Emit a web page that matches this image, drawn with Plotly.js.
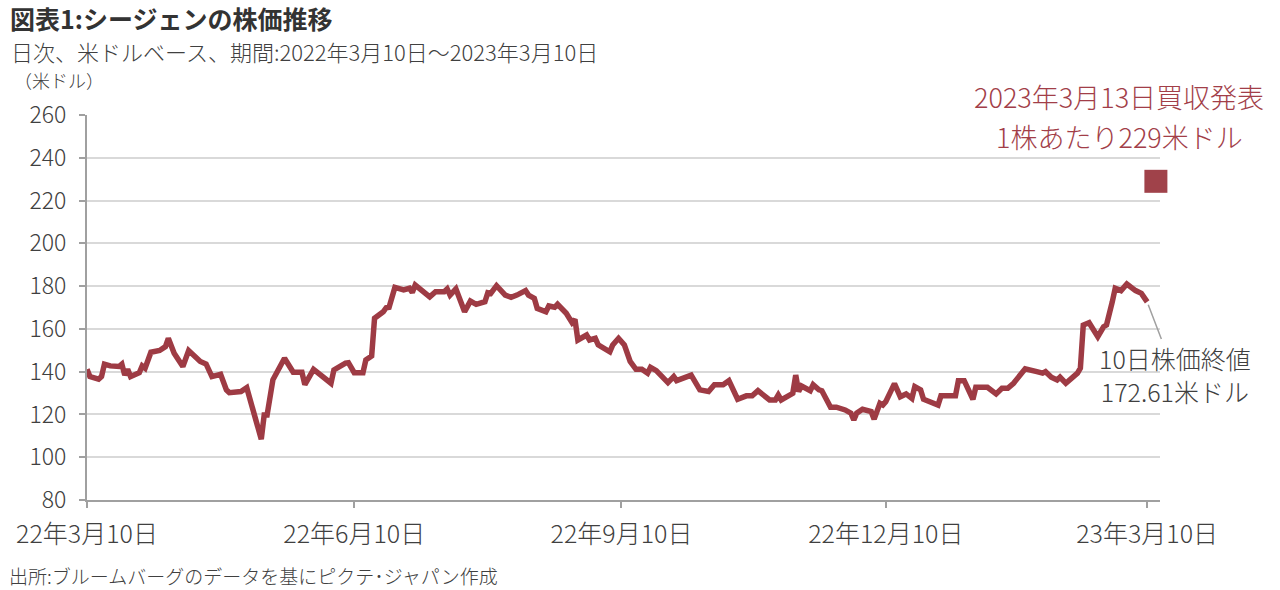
<!DOCTYPE html>
<html>
<head>
<meta charset="utf-8">
<script src="https://cdn.plot.ly/plotly-3.0.1.min.js"></script>
<style>html,body{margin:0;padding:0;background:#fff;}#chart{width:1280px;height:590px;}</style>
</head>
<body>
<div id="chart"></div>
<script>
const dates = [
"2022-03-10","2022-03-11","2022-03-14","2022-03-15","2022-03-16","2022-03-18","2022-03-21","2022-03-22","2022-03-23","2022-03-24",
"2022-03-25","2022-03-28","2022-03-29","2022-03-30","2022-04-01","2022-04-04","2022-04-06","2022-04-07","2022-04-09","2022-04-12",
"2022-04-14","2022-04-18","2022-04-20","2022-04-22","2022-04-25","2022-04-27","2022-04-28","2022-05-02","2022-05-04","2022-05-07",
"2022-05-09","2022-05-10","2022-05-11","2022-05-13","2022-05-17","2022-05-20","2022-05-23","2022-05-24","2022-05-27","2022-06-02",
"2022-06-03","2022-06-07","2022-06-08","2022-06-10","2022-06-13","2022-06-14","2022-06-16","2022-06-17","2022-06-20","2022-06-21",
"2022-06-22","2022-06-24","2022-06-27","2022-06-29","2022-06-30","2022-07-01","2022-07-06","2022-07-08","2022-07-11","2022-07-12",
"2022-07-13","2022-07-15","2022-07-18","2022-07-20","2022-07-22","2022-07-25","2022-07-26","2022-07-27","2022-07-29","2022-08-01",
"2022-08-03","2022-08-05","2022-08-08","2022-08-09","2022-08-11","2022-08-12","2022-08-15","2022-08-16","2022-08-18","2022-08-19",
"2022-08-22","2022-08-24","2022-08-25","2022-08-26","2022-08-29","2022-08-30","2022-09-01","2022-09-02","2022-09-06","2022-09-07",
"2022-09-09","2022-09-11","2022-09-13","2022-09-15","2022-09-17","2022-09-19","2022-09-20","2022-09-22","2022-09-26","2022-09-28",
"2022-09-29","2022-10-04","2022-10-07","2022-10-10","2022-10-12","2022-10-15","2022-10-17","2022-10-20","2022-10-23","2022-10-25",
"2022-10-27","2022-10-31","2022-11-02","2022-11-03","2022-11-04","2022-11-08","2022-11-09","2022-11-10","2022-11-11","2022-11-14",
"2022-11-15","2022-11-17","2022-11-18","2022-11-21","2022-11-23","2022-11-26","2022-11-28","2022-11-29","2022-11-30","2022-12-02",
"2022-12-05","2022-12-06","2022-12-08","2022-12-09","2022-12-10","2022-12-13","2022-12-15","2022-12-17","2022-12-19","2022-12-20",
"2022-12-22","2022-12-23","2022-12-28","2022-12-29","2023-01-03","2023-01-04","2023-01-06","2023-01-09","2023-01-10","2023-01-14",
"2023-01-17","2023-01-19","2023-01-21","2023-01-23","2023-01-27","2023-01-31","2023-02-02","2023-02-03","2023-02-05","2023-02-07",
"2023-02-08","2023-02-10","2023-02-14","2023-02-15","2023-02-16","2023-02-18","2023-02-21","2023-02-23","2023-02-24","2023-02-26",
"2023-02-27","2023-03-01","2023-03-03","2023-03-06","2023-03-08","2023-03-10"
];
const prices = [
141.1,137.7,136.5,137.7,143.5,142.7,142.4,143.5,138.4,141.1,
137.7,139.5,142.7,141.6,149.1,149.9,151.7,155.6,148.6,142.4,
149.9,144.8,143.6,137.7,138.8,131.5,130.2,130.7,132.5,119.0,
108.4,119.7,119.7,136.2,146.3,139.7,139.7,133.9,141.1,134.6,
140.8,144.0,144.2,139.5,139.5,145.5,147.3,165.0,168.0,169.9,
170.1,179.4,178.2,179.0,177.0,180.5,175.0,177.4,177.4,178.7,
175.8,178.7,168.0,173.0,171.5,172.7,176.9,176.6,180.2,175.8,
174.8,175.8,177.9,175.8,174.3,169.6,168.0,170.7,170.1,171.5,
167.3,162.9,164.5,154.8,157.1,154.8,155.6,152.5,149.3,152.5,
155.6,152.5,144.8,141.1,141.1,139.3,142.0,140.5,134.9,137.7,
135.8,138.4,131.5,130.7,133.9,133.9,135.8,127.1,128.7,128.7,
131.1,126.8,126.8,129.1,126.8,129.9,138.4,130.7,133.3,131.1,
133.9,131.5,131.1,123.4,123.4,122.1,120.6,117.4,120.6,122.4,
121.3,117.8,125.2,124.4,126.0,134.4,128.3,129.6,127.5,133.0,
131.5,127.1,124.4,128.7,128.7,135.8,135.8,127.1,132.7,132.7,
129.6,132.2,132.2,134.6,141.3,140.0,139.3,140.0,137.4,136.1,
137.4,134.6,139.3,141.6,161.8,162.9,156.4,161.0,161.8,172.7,
179.0,177.9,181.0,177.9,176.6,172.61
];
const offerDate = ["2023-03-13"];
const offerPrice = [229];
const tickDates = ["2022-03-10","2022-06-10","2022-09-10","2022-12-10","2023-03-10"];
const tickLabels = ["22年3月10日","22年6月10日","22年9月10日","22年12月10日","23年3月10日"];
const yTicks = [80,100,120,140,160,180,200,220,240,260];

const lineColor = "#9e3b44";
const textColor = "#404040";
const numFont = "'Noto Sans CJK JP', sans-serif";
const jpFont = "'Noto Sans CJK JP', sans-serif";

const lastIdx = dates.length - 1;

const traces = [
  {
    type: "scatter", mode: "lines", x: dates, y: prices,
    line: {color: lineColor, width: 5.5}, hoverinfo: "x+y"
  },
  {
    type: "scatter", mode: "markers", x: offerDate, y: offerPrice,
    marker: {symbol: "square", size: 23, color: "#a0424a"}, cliponaxis: false
  }
];

const layout = {
  width: 1280, height: 590,
  margin: {l: 87, r: 120, t: 115, b: 90},
  paper_bgcolor: "#ffffff", plot_bgcolor: "#ffffff",
  showlegend: false,
  font: {family: numFont, color: textColor, size: 22, weight: 300},
  title: {
    text: "<b>図表1:シージェンの株価推移</b>",
    font: {family: jpFont, size: 25, color: "#333333"},
    x: 10/1280, xanchor: "left", xref: "container",
    y: 1 - 20/590, yanchor: "middle", yref: "container"
  },
  xaxis: {
    type: "date",
    range: ["2022-03-10", "2023-03-14 10:00"],
    tickvals: tickDates, ticktext: tickLabels,
    showgrid: false, zeroline: false,
    showline: true, linecolor: "#a0a0a0", linewidth: 2,
    ticks: "outside", ticklen: 6, tickwidth: 2, tickcolor: "#a0a0a0",
    ticklabelstandoff: 5,
    tickfont: {family: numFont, size: 25, color: textColor, weight: 300}
  },
  yaxis: {
    range: [80, 260], tickvals: yTicks,
    showgrid: true, gridcolor: "#d9d9d9", gridwidth: 2,
    zeroline: false,
    showline: true, linecolor: "#a0a0a0", linewidth: 2,
    ticks: "outside", ticklen: 6, tickwidth: 2, tickcolor: "#a0a0a0",
    ticklabelstandoff: 8,
    tickfont: {family: numFont, size: 23, color: textColor, weight: 300}
  },
  annotations: [
    {
      text: "日次、米ドルベース、期間:2022年3月10日～2023年3月10日",
      xref: "paper", yref: "paper", x: (9-87)/1073, y: (500-51)/385,
      xanchor: "left", yanchor: "middle", showarrow: false,
      font: {family: jpFont, size: 22, color: textColor}
    },
    {
      text: "（米ドル）",
      xref: "paper", yref: "paper", x: (12-87)/1073, y: (500-80)/385,
      xanchor: "left", yanchor: "middle", showarrow: false,
      font: {family: jpFont, size: 18, color: textColor}
    },
    {
      text: "出所:ブルームバーグのデータを基にピクテ･ジャパン作成",
      xref: "paper", yref: "paper", x: (7-87)/1073, y: (500-575)/385,
      xanchor: "left", yanchor: "middle", showarrow: false,
      font: {family: jpFont, size: 19, color: textColor}
    },
    {
      text: "2023年3月13日買収発表",
      xref: "paper", yref: "paper", x: (1119-87)/1073, y: (500-96)/385,
      xanchor: "center", yanchor: "middle", showarrow: false,
      font: {family: numFont, size: 27, color: "#a23e48", weight: 300}
    },
    {
      text: "1株あたり229米ドル",
      xref: "paper", yref: "paper", x: (1119-87)/1073, y: (500-136)/385,
      xanchor: "center", yanchor: "middle", showarrow: false,
      font: {family: numFont, size: 27, color: "#a23e48", weight: 300}
    },
    {
      text: "10日株価終値<br>172.61米ドル",
      x: dates[lastIdx], y: prices[lastIdx], xref: "x", yref: "y",
      showarrow: true, arrowhead: 0, arrowwidth: 1.5, arrowcolor: "#a0a0a0",
      ax: 28, ay: 73, standoff: 3,
      align: "center",
      font: {family: numFont, size: 25, color: textColor, weight: 300}
    }
  ]
};

Plotly.newPlot("chart", traces, layout, {displayModeBar: false, staticPlot: true});
</script>
</body>
</html>
